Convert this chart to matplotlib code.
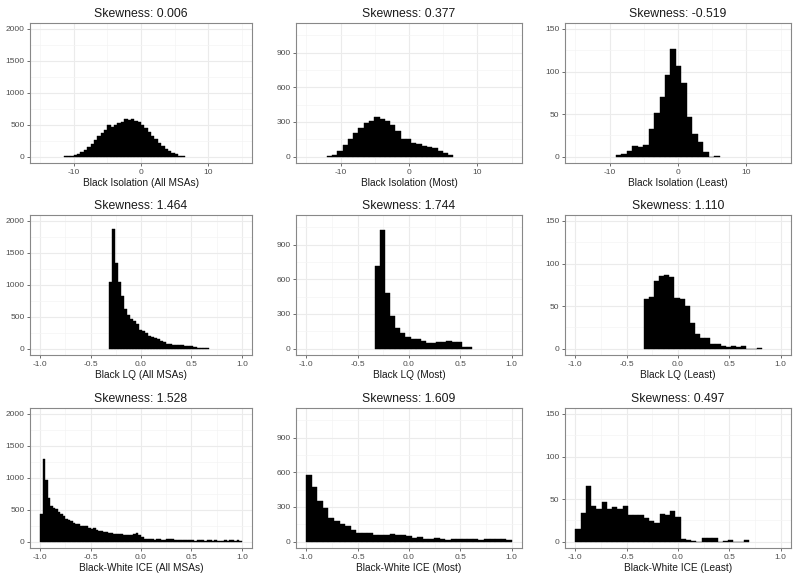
import numpy as np
import matplotlib.pyplot as plt

plt.rcParams['font.family'] = ['Liberation Sans', 'DejaVu Sans']
plt.rcParams['axes.unicode_minus'] = False

# ---- data: bin start, bin width, counts per bin ----
iso_all_start, iso_all_width = -11.5, 0.5
iso_all_counts = [5, 12, 18, 25, 40, 80, 100, 150, 200, 260, 330, 370, 420, 490, 460,
                  500, 520, 550, 590, 570, 590, 560, 540, 490, 450, 380, 320, 270,
                  210, 160, 120, 85, 55, 35, 18, 8]

iso_most_start, iso_most_width = -12.0, 0.77
iso_most_counts = [5, 15, 45, 100, 150, 205, 245, 290, 310, 345, 325, 310, 270, 225,
                   155, 150, 120, 105, 90, 80, 75, 50, 30, 15]

iso_least_start, iso_least_width = -9.1, 0.8
iso_least_counts = [2, 3, 7, 13, 11, 14, 32, 51, 70, 96, 127, 107, 87, 47, 27, 17, 5, 0, 1]

lq_all_start, lq_all_width = -0.32, 0.03
lq_all_counts = [1050, 1870, 1340, 1050, 820, 620, 520, 460, 430, 380, 300, 270, 240,
                 200, 180, 170, 150, 120, 100, 80, 75, 60, 55, 50, 50, 40, 40, 35,
                 20, 15, 15, 12, 8]

lq_most_start, lq_most_width = -0.335, 0.05
lq_most_counts = [714, 1029, 477, 280, 177, 137, 100, 86, 86, 63, 51, 51, 55, 55, 63,
                  60, 60, 14, 14]

lq_least_start, lq_least_width = -0.335, 0.05
lq_least_counts = [58, 61, 79, 85, 86, 84, 59, 58, 50, 30, 17, 12, 13, 5, 6, 3, 2, 3,
                   2, 3, 0, 0, 1]

ice_all_start, ice_all_width = -1.0, 0.025
ice_all_counts = [430, 1300, 960, 690, 560, 530, 510, 470, 430, 400, 350, 340, 320, 300,
                  280, 270, 250, 240, 250, 220, 200, 210, 180, 170, 165, 155, 150, 140,
                  130, 125, 120, 115, 120, 110, 105, 100, 110, 115, 130, 110, 70, 45,
                  40, 40, 35, 30, 45, 35, 30, 25, 40, 45, 35, 25, 30, 25, 20, 25, 20,
                  20, 20, 15, 20, 20, 20, 15, 20, 25, 15, 20, 15, 10, 15, 20, 15, 25,
                  20, 15, 20, 10]

ice_most_start, ice_most_width = -1.0, 2 / 37
ice_most_counts = [575, 475, 355, 290, 205, 180, 155, 135, 100, 75, 75, 75, 60, 55, 55,
                   65, 60, 60, 45, 30, 40, 25, 25, 30, 25, 15, 25, 25, 25, 20, 20, 10,
                   20, 25, 25, 25, 12]

ice_least_start, ice_least_width = -1.0, 2 / 39
ice_least_counts = [15, 34, 65, 42, 38, 46, 38, 41, 38, 42, 31, 31, 31, 28, 24, 22, 32,
                    31, 36, 29, 3, 2, 1, 0, 4, 4, 4, 0, 1, 2, 0, 0, 2]

skews = ["0.006", "0.377", "-0.519", "1.464", "1.744", "1.110", "1.528", "1.609", "0.497"]
xlabels = ["Black Isolation (All MSAs)", "Black Isolation (Most)", "Black Isolation (Least)",
           "Black LQ (All MSAs)", "Black LQ (Most)", "Black LQ (Least)",
           "Black-White ICE (All MSAs)", "Black-White ICE (Most)", "Black-White ICE (Least)"]

panels = [
    (iso_all_start, iso_all_width, iso_all_counts),
    (iso_most_start, iso_most_width, iso_most_counts),
    (iso_least_start, iso_least_width, iso_least_counts),
    (lq_all_start, lq_all_width, lq_all_counts),
    (lq_most_start, lq_most_width, lq_most_counts),
    (lq_least_start, lq_least_width, lq_least_counts),
    (ice_all_start, ice_all_width, ice_all_counts),
    (ice_most_start, ice_most_width, ice_most_counts),
    (ice_least_start, ice_least_width, ice_least_counts),
]

# y scales shared by column, x scales by row
col_ylim = [(-99, 2092), (-55, 1155), (-7.5, 157)]
col_yticks = [[0, 500, 1000, 1500, 2000], [0, 300, 600, 900], [0, 50, 100, 150]]
col_yminor = [[250, 750, 1250, 1750], [150, 450, 750, 1050], [25, 75, 125]]
row_xlim = [(-16.5, 16.5), (-1.1, 1.1), (-1.1, 1.1)]
row_xticks = [[-10, 0, 10], [-1.0, -0.5, 0.0, 0.5, 1.0], [-1.0, -0.5, 0.0, 0.5, 1.0]]
row_xlabels = [["-10", "0", "10"], ["-1.0", "-0.5", "0.0", "0.5", "1.0"],
               ["-1.0", "-0.5", "0.0", "0.5", "1.0"]]
row_xminor = [[-15, -5, 5, 15], [-0.75, -0.25, 0.25, 0.75], [-0.75, -0.25, 0.25, 0.75]]

# panel boxes in pixels (left, right) and (top, bottom)
W, H = 800, 582
col_px = [(30, 252), (296, 522), (565, 791)]
row_px = [(23, 163), (215, 355), (408, 548)]

fig = plt.figure(figsize=(W / 100, H / 100), dpi=100)

for i, (start, width, counts) in enumerate(panels):
    r, c = divmod(i, 3)
    l, rt = col_px[c]
    t, b = row_px[r]
    ax = fig.add_axes([l / W, 1 - b / H, (rt - l) / W, (b - t) / H])
    counts = np.array(counts, dtype=float)
    edges = start + width * np.arange(len(counts) + 1)
    ax.hist(edges[:-1] + width / 2, bins=edges, weights=counts,
            color='black', edgecolor='black', linewidth=0.3, zorder=3)

    ax.set_xlim(*row_xlim[r])
    ax.set_ylim(*col_ylim[c])
    ax.set_xticks(row_xticks[r])
    ax.set_xticklabels(row_xlabels[r])
    ax.set_yticks(col_yticks[c])
    ax.set_xticks(row_xminor[r], minor=True)
    ax.set_yticks(col_yminor[c], minor=True)
    ax.grid(which='major', color='#EBEBEB', linewidth=0.8, zorder=0)
    ax.grid(which='minor', color='#F4F4F4', linewidth=0.5, zorder=0)
    ax.tick_params(which='minor', length=0)
    ax.tick_params(which='major', length=2.5, width=0.6, color='#555555',
                   labelcolor='#4D4D4D', labelsize=6, pad=1.5)
    ax.set_axisbelow(True)
    for s in ax.spines.values():
        s.set_color('#888888')
        s.set_linewidth(0.8)

    ax.set_title("Skewness: " + skews[i], fontsize=8.8, pad=4, color='#1a1a1a')
    ax.set_xlabel(xlabels[i], fontsize=7.3, labelpad=1.5, color='#1a1a1a')

fig.savefig("out.png", dpi=100, facecolor='white')
